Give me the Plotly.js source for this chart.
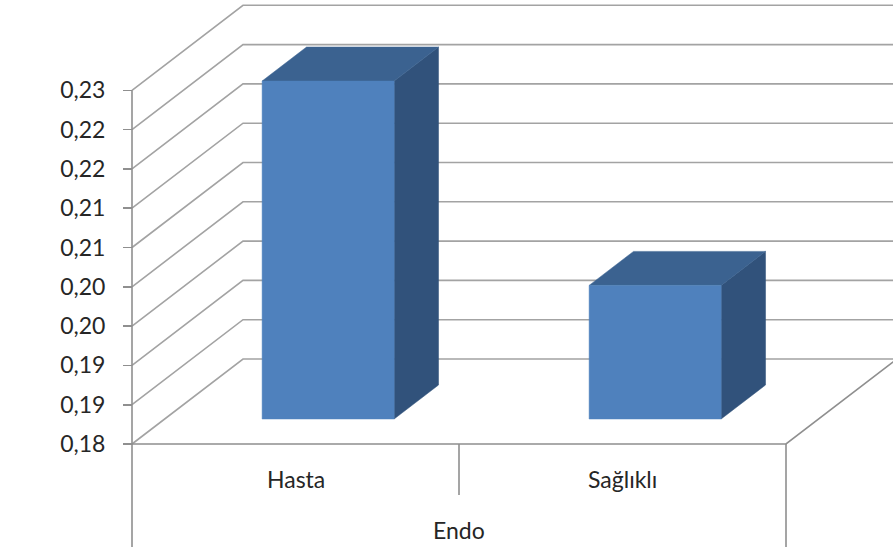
<!DOCTYPE html>
<html>
<head>
<meta charset="utf-8">
<script src="https://cdn.plot.ly/plotly-3.0.1.min.js"></script>
<style>
  html, body { margin: 0; padding: 0; background: #ffffff; }
  #chart { width: 893px; height: 552px; }
</style>
</head>
<body>
<div id="chart"></div>
<script>
// Data
const categories = ['Hasta', 'Sağlıklı'];
const values = [0.223, 0.197];
const groupLabel = 'Endo';
const tickVals = [0.18, 0.185, 0.19, 0.195, 0.2, 0.205, 0.21, 0.215, 0.22, 0.225];
const tickText = ['0,18', '0,19', '0,19', '0,20', '0,20', '0,21', '0,21', '0,22', '0,22', '0,23'];

// 3D projection of the box (oblique): depth moves right and up
const PX_X = 327;          // pixels per category
const PX_Y = 7860;         // pixels per value unit
const DX = 111 / PX_X;     // full depth, x units
const DY = 85 / PX_Y;      // full depth, value units
const F_FRONT = 0.294;     // bar front plane (fraction of depth)
const F_BACK = 0.694;      // bar back plane
const HALF = 66 / PX_X;    // half bar width

const Y0 = tickVals[0];
const YTOP = tickVals[tickVals.length - 1];
const X_LEFT = -0.5;
const X_RIGHT = categories.length - 0.5;
const Y_DIV = Y0 - 51 / PX_Y;     // bottom of the category divider
const Y_BOX = Y0 - 103 / PX_Y;    // bottom of the group box
const Y_CAT = Y0 - 35 / PX_Y;     // category label line
const Y_GRP = Y0 - 86 / PX_Y;     // group label line

const xRange = [X_LEFT - 132 / PX_X, X_LEFT + (893 - 132) / PX_X];
const yRange = [Y0 - 108 / PX_Y, Y0 + 444 / PX_Y];

const gridColor = '#a3a3a3';
const axisColor = '#8f8f8f';
const traces = [];

// Walls: side-wall diagonals and back-wall lines for every tick value
const gx = [], gy = [];
tickVals.forEach(v => {
  gx.push(X_LEFT, X_LEFT + DX, X_RIGHT + DX, null);
  gy.push(v, v + DY, v + DY, null);
});
traces.push({ type: 'scatter', mode: 'lines', x: gx, y: gy, hoverinfo: 'skip',
  line: { color: gridColor, width: 1.6 } });

// Floor front and right edges, axis lines and category box
traces.push({ type: 'scatter', mode: 'lines', hoverinfo: 'skip',
  x: [X_LEFT, X_RIGHT, X_RIGHT + DX, null,
      X_LEFT, X_LEFT, null,
      0.5, 0.5, null,
      X_RIGHT, X_RIGHT],
  y: [Y0, Y0, Y0 + DY, null,
      YTOP, Y_BOX, null,
      Y0, Y_DIV, null,
      Y0, Y_BOX],
  line: { color: axisColor, width: 1.6 } });

// Bars: front, top and side faces
const frontColor = '#4f81bd';
const topColor = '#3b6290';
const sideColor = '#31527b';
values.forEach((v, i) => {
  const xf = i + F_FRONT * DX, yf = F_FRONT * DY;
  const xb = i + F_BACK * DX, yb = F_BACK * DY;
  const l = -HALF, r = HALF;
  const poly = (xs, ys, color) => traces.push({
    type: 'scatter', mode: 'lines', fill: 'toself', fillcolor: color,
    x: xs, y: ys, line: { color: color, width: 0.5 },
    name: categories[i], hoverinfo: 'name+y'
  });
  // side
  poly([xf + r, xb + r, xb + r, xf + r, xf + r],
       [Y0 + yf, Y0 + yb, v + yb, v + yf, Y0 + yf], sideColor);
  // top
  poly([xf + l, xb + l, xb + r, xf + r, xf + l],
       [v + yf, v + yb, v + yb, v + yf, v + yf], topColor);
  // front
  poly([xf + l, xf + r, xf + r, xf + l, xf + l],
       [Y0 + yf, Y0 + yf, v + yf, v + yf, Y0 + yf], frontColor);
});

const font = { family: 'Lato, "Open Sans", sans-serif', size: 23, color: '#262626' };

const annotations = categories.map((c, i) => ({
  x: i, y: Y_CAT, xref: 'x', yref: 'y', text: c, showarrow: false,
  xanchor: 'center', yanchor: 'middle', font: font
}));
annotations.push({
  x: (X_LEFT + X_RIGHT) / 2, y: Y_GRP, xref: 'x', yref: 'y', text: groupLabel,
  showarrow: false, xanchor: 'center', yanchor: 'middle', font: font
});

const layout = {
  width: 893, height: 552,
  margin: { l: 0, r: 0, t: 0, b: 0, pad: 0 },
  paper_bgcolor: '#ffffff', plot_bgcolor: '#ffffff',
  showlegend: false,
  xaxis: { range: xRange, visible: false, fixedrange: true },
  yaxis: {
    range: yRange, anchor: 'free', position: 132 / 893, side: 'left',
    tickmode: 'array', tickvals: tickVals, ticktext: tickText,
    ticks: 'outside', ticklen: 9, tickwidth: 1.6, tickcolor: axisColor,
    ticklabelstandoff: 13,
    showgrid: false, zeroline: false, showline: false, automargin: false,
    tickfont: font, fixedrange: true
  },
  annotations: annotations
};

Plotly.newPlot('chart', traces, layout, { displayModeBar: false, staticPlot: true });
</script>
</body>
</html>
